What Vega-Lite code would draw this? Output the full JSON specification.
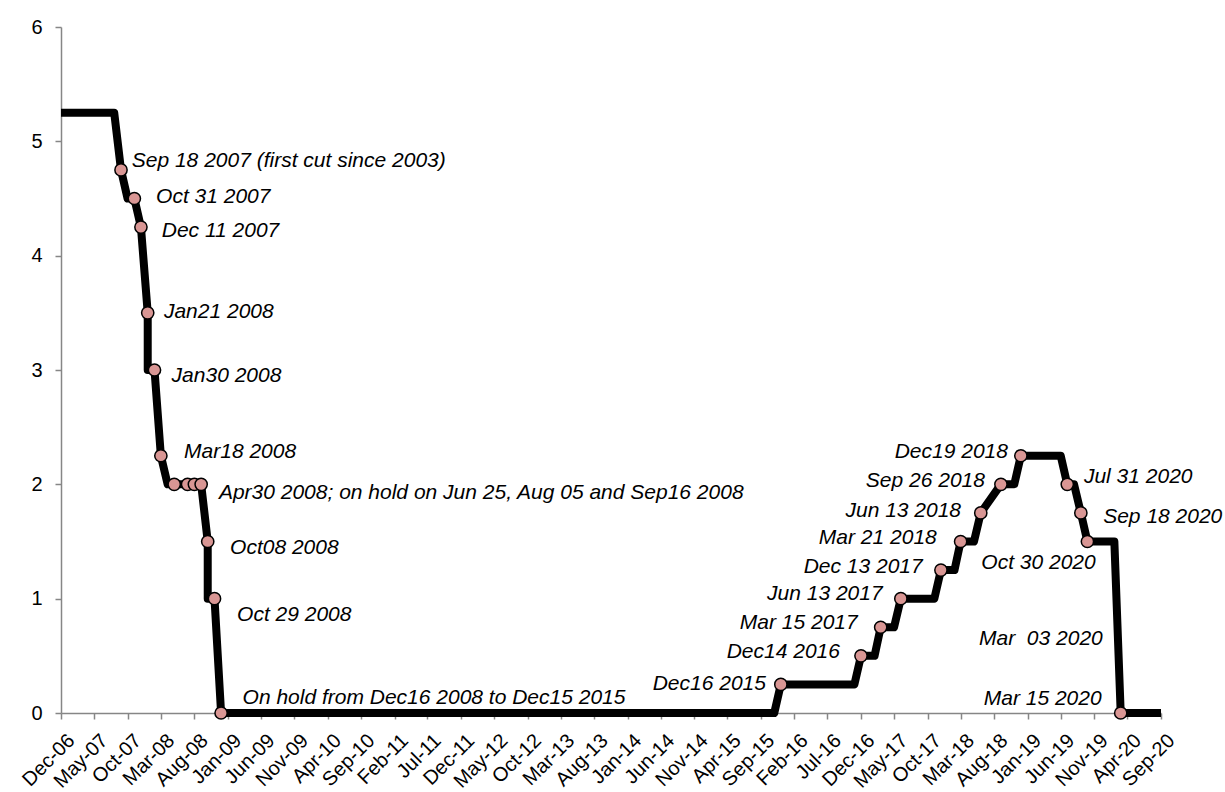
{
  "$schema": "https://vega.github.io/schema/vega-lite/v6.json",
  "width": 1100,
  "height": 686,
  "autosize": "none",
  "padding": {"left": 61, "top": 27, "right": 64, "bottom": 79},
  "background": "white",
  "view": {"stroke": null},
  "title": {"text": "(% change)", "font": "Liberation Sans", "fontSize": 20, "fontWeight": "normal", "color": "black", "anchor": "middle", "frame": "group", "baseline": "alphabetic", "offset": 21, "dx": 6},
  "datasets": {
    "rate": [
      {"seq": 1, "date": "2006-12-01", "rate": 5.25},
      {"seq": 2, "date": "2007-08-01", "rate": 5.25},
      {"seq": 3, "date": "2007-09-01", "rate": 4.75},
      {"seq": 4, "date": "2007-10-01", "rate": 4.5},
      {"seq": 5, "date": "2007-11-01", "rate": 4.5},
      {"seq": 6, "date": "2007-12-01", "rate": 4.25},
      {"seq": 7, "date": "2008-01-01", "rate": 3.5},
      {"seq": 8, "date": "2008-01-01", "rate": 3.0},
      {"seq": 9, "date": "2008-02-01", "rate": 3.0},
      {"seq": 10, "date": "2008-03-01", "rate": 2.25},
      {"seq": 11, "date": "2008-04-01", "rate": 2.0},
      {"seq": 12, "date": "2008-09-01", "rate": 2.0},
      {"seq": 13, "date": "2008-10-01", "rate": 1.5},
      {"seq": 14, "date": "2008-10-01", "rate": 1.0},
      {"seq": 15, "date": "2008-11-01", "rate": 1.0},
      {"seq": 16, "date": "2008-12-01", "rate": 0},
      {"seq": 17, "date": "2015-11-01", "rate": 0},
      {"seq": 18, "date": "2015-12-01", "rate": 0.25},
      {"seq": 19, "date": "2016-11-01", "rate": 0.25},
      {"seq": 20, "date": "2016-12-01", "rate": 0.5},
      {"seq": 21, "date": "2017-02-01", "rate": 0.5},
      {"seq": 22, "date": "2017-03-01", "rate": 0.75},
      {"seq": 23, "date": "2017-05-01", "rate": 0.75},
      {"seq": 24, "date": "2017-06-01", "rate": 1.0},
      {"seq": 25, "date": "2017-11-01", "rate": 1.0},
      {"seq": 26, "date": "2017-12-01", "rate": 1.25},
      {"seq": 27, "date": "2018-02-01", "rate": 1.25},
      {"seq": 28, "date": "2018-03-01", "rate": 1.5},
      {"seq": 29, "date": "2018-05-01", "rate": 1.5},
      {"seq": 30, "date": "2018-06-01", "rate": 1.75},
      {"seq": 31, "date": "2018-09-01", "rate": 2.0},
      {"seq": 32, "date": "2018-11-01", "rate": 2.0},
      {"seq": 33, "date": "2018-12-01", "rate": 2.25},
      {"seq": 34, "date": "2019-06-01", "rate": 2.25},
      {"seq": 35, "date": "2019-07-01", "rate": 2.0},
      {"seq": 36, "date": "2019-08-01", "rate": 2.0},
      {"seq": 37, "date": "2019-09-01", "rate": 1.75},
      {"seq": 38, "date": "2019-10-01", "rate": 1.5},
      {"seq": 39, "date": "2020-02-01", "rate": 1.5},
      {"seq": 40, "date": "2020-03-01", "rate": 0},
      {"seq": 41, "date": "2020-09-01", "rate": 0}
    ],
    "decisions": [
      {"date": "2007-09-01", "rate": 4.75},
      {"date": "2007-11-01", "rate": 4.5},
      {"date": "2007-12-01", "rate": 4.25},
      {"date": "2008-01-01", "rate": 3.5},
      {"date": "2008-02-01", "rate": 3.0},
      {"date": "2008-03-01", "rate": 2.25},
      {"date": "2008-05-01", "rate": 2.0},
      {"date": "2008-07-01", "rate": 2.0},
      {"date": "2008-08-01", "rate": 2.0},
      {"date": "2008-09-01", "rate": 2.0},
      {"date": "2008-10-01", "rate": 1.5},
      {"date": "2008-11-01", "rate": 1.0},
      {"date": "2008-12-01", "rate": 0},
      {"date": "2015-12-01", "rate": 0.25},
      {"date": "2016-12-01", "rate": 0.5},
      {"date": "2017-03-01", "rate": 0.75},
      {"date": "2017-06-01", "rate": 1.0},
      {"date": "2017-12-01", "rate": 1.25},
      {"date": "2018-03-01", "rate": 1.5},
      {"date": "2018-06-01", "rate": 1.75},
      {"date": "2018-09-01", "rate": 2.0},
      {"date": "2018-12-01", "rate": 2.25},
      {"date": "2019-07-01", "rate": 2.0},
      {"date": "2019-09-01", "rate": 1.75},
      {"date": "2019-10-01", "rate": 1.5},
      {"date": "2020-03-01", "rate": 0}
    ],
    "notesLeft": [
      {"date": "2007-10-20", "rate": 4.83, "note": "Sep 18 2007 (first cut since 2003)"},
      {"date": "2008-02-08", "rate": 4.516, "note": "Oct 31 2007"},
      {"date": "2008-03-05", "rate": 4.218, "note": "Dec 11 2007"},
      {"date": "2008-03-15", "rate": 3.505, "note": "Jan21 2008"},
      {"date": "2008-04-19", "rate": 2.95, "note": "Jan30 2008"},
      {"date": "2008-06-15", "rate": 2.283, "note": "Mar18 2008"},
      {"date": "2008-11-21", "rate": 1.924, "note": "Apr30 2008; on hold on Jun 25, Aug 05 and Sep16 2008"},
      {"date": "2009-01-11", "rate": 1.443, "note": "Oct08 2008"},
      {"date": "2009-02-12", "rate": 0.857, "note": "Oct 29 2008"},
      {"date": "2009-03-09", "rate": 0.133, "note": "On hold from Dec16 2008 to Dec15 2015"},
      {"date": "2019-09-15", "rate": 2.062, "note": "Jul 31 2020"},
      {"date": "2019-12-12", "rate": 1.712, "note": "Sep 18 2020"}
    ],
    "notesRight": [
      {"date": "2015-09-24", "rate": 0.254, "note": "Dec16 2015"},
      {"date": "2016-08-27", "rate": 0.536, "note": "Dec14 2016"},
      {"date": "2016-11-16", "rate": 0.785, "note": "Mar 15 2017"},
      {"date": "2017-03-10", "rate": 1.041, "note": "Jun 13 2017"},
      {"date": "2017-09-09", "rate": 1.28, "note": "Dec 13 2017"},
      {"date": "2017-11-12", "rate": 1.533, "note": "Mar 21 2018"},
      {"date": "2018-03-03", "rate": 1.769, "note": "Jun 13 2018"},
      {"date": "2018-06-20", "rate": 2.032, "note": "Sep 26 2018"},
      {"date": "2018-10-03", "rate": 2.283, "note": "Dec19 2018"},
      {"date": "2019-11-08", "rate": 1.315, "note": "Oct 30 2020"},
      {"date": "2019-12-10", "rate": 0.647, "note": "Mar\u00a0 03 2020"},
      {"date": "2019-12-05", "rate": 0.12, "note": "Mar 15 2020"}
    ]
  },
  "encoding": {
    "x": {
      "field": "date",
      "type": "temporal",
      "scale": {"type": "utc", "domain": [{"year": 2006, "month": 12, "date": 1, "utc": true}, {"year": 2020, "month": 9, "date": 1, "utc": true}]},
      "axis": {
        "title": null,
        "labelExpr": "utcFormat(datum.value, '%b-%y')",
        "values": [
          {"year": 2006, "month": 12, "date": 1, "utc": true},
          {"year": 2007, "month": 5, "date": 1, "utc": true},
          {"year": 2007, "month": 10, "date": 1, "utc": true},
          {"year": 2008, "month": 3, "date": 1, "utc": true},
          {"year": 2008, "month": 8, "date": 1, "utc": true},
          {"year": 2009, "month": 1, "date": 1, "utc": true},
          {"year": 2009, "month": 6, "date": 1, "utc": true},
          {"year": 2009, "month": 11, "date": 1, "utc": true},
          {"year": 2010, "month": 4, "date": 1, "utc": true},
          {"year": 2010, "month": 9, "date": 1, "utc": true},
          {"year": 2011, "month": 2, "date": 1, "utc": true},
          {"year": 2011, "month": 7, "date": 1, "utc": true},
          {"year": 2011, "month": 12, "date": 1, "utc": true},
          {"year": 2012, "month": 5, "date": 1, "utc": true},
          {"year": 2012, "month": 10, "date": 1, "utc": true},
          {"year": 2013, "month": 3, "date": 1, "utc": true},
          {"year": 2013, "month": 8, "date": 1, "utc": true},
          {"year": 2014, "month": 1, "date": 1, "utc": true},
          {"year": 2014, "month": 6, "date": 1, "utc": true},
          {"year": 2014, "month": 11, "date": 1, "utc": true},
          {"year": 2015, "month": 4, "date": 1, "utc": true},
          {"year": 2015, "month": 9, "date": 1, "utc": true},
          {"year": 2016, "month": 2, "date": 1, "utc": true},
          {"year": 2016, "month": 7, "date": 1, "utc": true},
          {"year": 2016, "month": 12, "date": 1, "utc": true},
          {"year": 2017, "month": 5, "date": 1, "utc": true},
          {"year": 2017, "month": 10, "date": 1, "utc": true},
          {"year": 2018, "month": 3, "date": 1, "utc": true},
          {"year": 2018, "month": 8, "date": 1, "utc": true},
          {"year": 2019, "month": 1, "date": 1, "utc": true},
          {"year": 2019, "month": 6, "date": 1, "utc": true},
          {"year": 2019, "month": 11, "date": 1, "utc": true},
          {"year": 2020, "month": 4, "date": 1, "utc": true},
          {"year": 2020, "month": 9, "date": 1, "utc": true}
        ],
        "labelAngle": -45,
        "labelFont": "Liberation Sans",
        "labelFontSize": 20,
        "labelColor": "black",
        "labelOverlap": false,
        "labelFlush": false,
        "labelBound": false,
        "labelPadding": 11,
        "labelOffset": 3,
        "domainColor": "#868686",
        "domainWidth": 1.5,
        "tickColor": "#868686",
        "tickWidth": 1.5,
        "tickSize": 6,
        "grid": false
      }
    },
    "y": {
      "field": "rate",
      "type": "quantitative",
      "scale": {"domain": [0, 6], "nice": false, "zero": true},
      "axis": {
        "title": null,
        "values": [0, 1, 2, 3, 4, 5, 6],
        "labelFont": "Liberation Sans",
        "labelFontSize": 20,
        "labelColor": "black",
        "labelPadding": 13,
        "labelFlush": false,
        "domainColor": "#868686",
        "domainWidth": 1.5,
        "tickColor": "#868686",
        "tickWidth": 1.5,
        "tickSize": 6,
        "grid": false
      }
    }
  },
  "layer": [
    {
      "data": {"name": "rate"},
      "mark": {"type": "line", "color": "black", "strokeWidth": 8, "strokeJoin": "round", "strokeCap": "butt", "clip": false},
      "encoding": {"order": {"field": "seq", "type": "quantitative"}}
    },
    {
      "data": {"name": "decisions"},
      "mark": {"type": "point", "shape": "circle", "filled": true, "fill": "#D99694", "stroke": "black", "strokeWidth": 1.5, "size": 150, "opacity": 1}
    },
    {
      "data": {"name": "notesLeft"},
      "mark": {"type": "text", "align": "left", "baseline": "middle", "font": "Liberation Sans", "fontStyle": "italic", "fontSize": 21, "color": "black"},
      "encoding": {"text": {"field": "note"}}
    },
    {
      "data": {"name": "notesRight"},
      "mark": {"type": "text", "align": "right", "baseline": "middle", "font": "Liberation Sans", "fontStyle": "italic", "fontSize": 21, "color": "black"},
      "encoding": {"text": {"field": "note"}}
    }
  ]
}
